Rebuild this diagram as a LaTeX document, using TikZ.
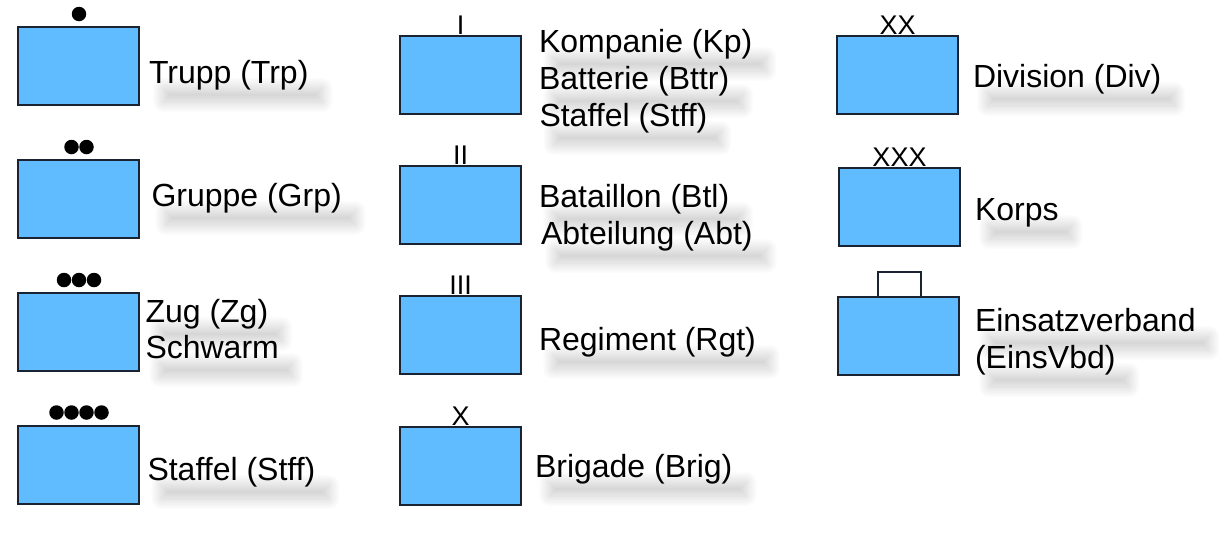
\documentclass[tikz,border=0pt]{standalone}
\usepackage{fontspec}
\setmainfont{Liberation Sans}
\usetikzlibrary{shadows.blur}
\definecolor{boxblue}{RGB}{97,187,255}
\definecolor{edgecol}{RGB}{25,35,50}
\begin{document}
\begin{tikzpicture}[x=1pt,y=-1pt,
  unitbox/.style={draw=edgecol, line width=1.3pt, fill=boxblue, minimum width=121pt, minimum height=78pt, inner sep=0pt, outer sep=0pt, anchor=north west},
  lbl/.style={anchor=base west, inner sep=0pt, outer sep=0pt, font=\fontsize{32}{37}\selectfont, text height=7pt, text depth=7pt,
    blur shadow={shadow xshift=14pt, shadow yshift=-12pt, shadow opacity=20, shadow blur radius=11pt, shadow blur steps=30}},
  echelon/.style={anchor=base, inner sep=0pt, font=\fontsize{27}{30}\selectfont},
  bullet/.style={circle, fill=black, minimum size=14.5pt, inner sep=0pt},
  hqbox/.style={draw=edgecol, line width=1.3pt, fill=white, minimum width=43pt, minimum height=25pt, inner sep=0pt, outer sep=0pt, anchor=south}]
\useasboundingbox (0,0) rectangle (1228,533);

% column 1
\node[unitbox] (trp) at (18,27) {};
\node[unitbox] (grp) at (18,160) {};
\node[unitbox] (zg)  at (18,293) {};
\node[unitbox] (stf1) at (18,426) {};
\node[bullet] (d1) at (79,14) {};
\node[bullet] (d2a) at (71.5,147) {};
\node[bullet] (d2b) at (86.5,147) {};
\node[bullet] (d3a) at (64,280) {};
\node[bullet] (d3b) at (79,280) {};
\node[bullet] (d3c) at (94,280) {};
\node[bullet] (d4a) at (56.5,412.5) {};
\node[bullet] (d4b) at (71.5,412.5) {};
\node[bullet] (d4c) at (86.5,412.5) {};
\node[bullet] (d4d) at (101.5,412.5) {};
\node[lbl] (ltrp) at (149,83) {Trupp (Trp)};
\node[lbl] (lgrp) at (151.5,206) {Gruppe (Grp)};
\node[lbl] (lzg) at (145.5,322) {Zug (Zg)};
\node[lbl] (lschw) at (145.5,358) {Schwarm};
\node[lbl] (lstf1) at (147.5,480) {Staffel (Stff)};

% column 2
\node[unitbox] (kp) at (400,36) {};
\node[unitbox] (btl) at (400,166) {};
\node[unitbox] (rgt) at (400,296) {};
\node[unitbox] (brig) at (400,427) {};
\node[echelon] (e1) at (460.5,34) {I};
\node[echelon] (e2) at (460.5,164) {II};
\node[echelon] (e3) at (460.5,294) {III};
\node[echelon] (e4) at (460.5,425) {X};
\node[lbl] (lkp) at (539,52) {Kompanie (Kp)};
\node[lbl] (lbttr) at (539,89) {Batterie (Bttr)};
\node[lbl] (lstf2) at (539.5,126) {Staffel (Stff)};
\node[lbl] (lbtl) at (539,207) {Bataillon (Btl)};
\node[lbl] (labt) at (541,244) {Abteilung (Abt)};
\node[lbl] (lrgt) at (539,350) {Regiment (Rgt)};
\node[lbl] (lbrig) at (535,477) {Brigade (Brig)};

% column 3
\node[unitbox] (div) at (837,36) {};
\node[unitbox] (korps) at (839,168) {};
\node[unitbox] (ev) at (838,297) {};
\node[echelon] (e5) at (897.5,34) {XX};
\node[echelon] (e6) at (899.5,166) {XXX};
\node[hqbox] (hq) at (899.5,297) {};
\node[lbl] (ldiv) at (973,87) {Division (Div)};
\node[lbl] (lkorps) at (975,220) {Korps};
\node[lbl] (lev) at (975,331) {Einsatzverband};
\node[lbl] (levb) at (975,368) {(EinsVbd)};
\end{tikzpicture}
\end{document}
